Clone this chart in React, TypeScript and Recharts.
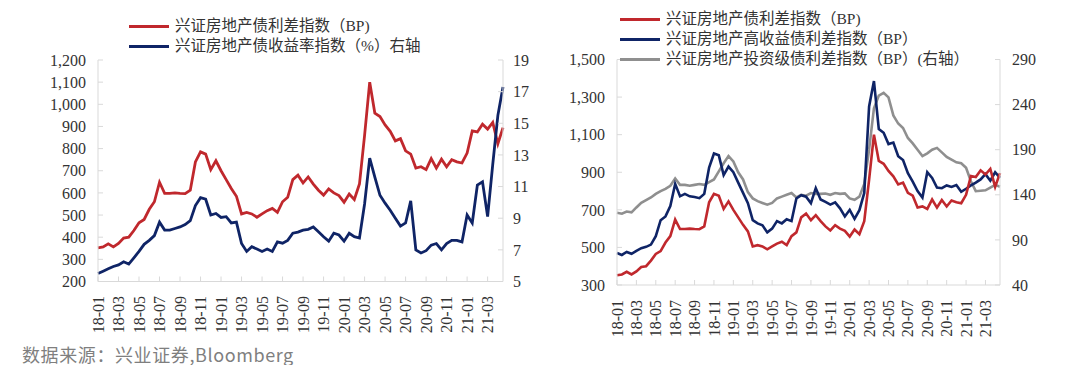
import React from 'react';
import { LineChart, Line, XAxis, YAxis } from 'recharts';

// half-month periods, Jan 2018 .. Apr 2021
const months = [
  '18-01', '18-02', '18-03', '18-04', '18-05', '18-06', '18-07', '18-08', '18-09', '18-10', '18-11', '18-12',
  '19-01', '19-02', '19-03', '19-04', '19-05', '19-06', '19-07', '19-08', '19-09', '19-10', '19-11', '19-12',
  '20-01', '20-02', '20-03', '20-04', '20-05', '20-06', '20-07', '20-08', '20-09', '20-10', '20-11', '20-12',
  '21-01', '21-02', '21-03', '21-04',
];
const periods = months.flatMap((m) => [m + ' a', m + ' b']);

// 兴证房地产债利差指数 (BP)
const spreadIdx = [
  352, 356, 370, 356, 372, 396, 400, 430, 465, 480, 526, 560, 648, 598, 598, 600, 598, 597, 612, 740,
  785, 775, 705, 745, 700, 660, 620, 585, 505, 512, 505, 490, 505, 520, 530, 512, 560, 580, 660, 680,
  645, 672, 640, 612, 590, 618, 600, 588, 558, 595, 570, 640, 860, 1100, 960, 945, 907, 878, 835, 845,
  790, 775, 712, 718, 705, 755, 712, 752, 718, 750, 740, 735, 780, 880, 875, 910, 888, 918, 822, 895,
];

// 兴证房地产债收益率指数 (%)
const yieldIdx = [
  5.5, 5.65, 5.8, 5.95, 6.05, 6.25, 6.1, 6.5, 6.9, 7.35, 7.6, 7.9, 8.75, 8.25, 8.25, 8.35, 8.45, 8.6, 8.85, 9.8,
  10.3, 10.2, 9.2, 9.3, 9.05, 9.1, 8.7, 8.75, 7.4, 6.9, 7.2, 7.05, 6.9, 7.05, 6.9, 7.5, 7.42, 7.6, 8.05, 8.12,
  8.25, 8.3, 8.45, 8.15, 7.83, 7.55, 8.05, 7.94, 7.55, 8.05, 7.83, 7.75, 9.9, 12.8, 11.6, 10.45, 9.95, 9.5, 9.0, 8.5,
  8.7, 10.1, 7.0, 6.8, 6.95, 7.3, 7.4, 7.0, 7.4, 7.6, 7.6, 7.5, 9.2, 8.7, 11.1, 11.3, 9.1, 12.4, 15.5, 17.3,
];

// 兴证房地产高收益债利差指数 (BP)
const highYield = [
  470, 460, 476, 466, 482, 496, 503, 515, 560, 645, 665, 720, 838, 772, 785, 772, 768, 762, 785, 925,
  1000, 990, 885, 930, 900, 845, 790, 735, 645, 628, 618, 580, 600, 640, 628, 650, 640, 760, 778, 770,
  735, 815, 755, 742, 728, 740, 708, 665, 700, 652, 698, 790, 1250, 1385, 1130, 1110, 1050, 1058, 985, 965,
  895, 850, 800, 765, 900, 870, 818, 815, 830, 822, 832, 796, 812, 830, 845, 862, 890, 855, 900, 870,
];

// 兴证房地产投资级债利差指数 (BP), right axis
const invGrade = [
  120, 119, 121.5, 120.5, 126, 131, 134, 137, 141, 144, 146.5, 150, 158, 151, 151, 150, 151, 152, 151, 154,
  157, 166, 175, 183, 177, 165, 157, 143, 136, 133, 131, 129, 131, 136, 138, 140, 142, 137, 140, 139,
  142, 141, 141, 141.5, 140, 142, 141, 141.5, 136, 134.5, 138, 152, 190, 236, 250, 253, 248, 228, 219, 214,
  203, 197, 190, 183, 186, 190, 192, 187, 182, 179, 176, 175, 170, 155, 144, 144.5, 145, 148, 151, 149,
];

const leftTicksA = [200, 300, 400, 500, 600, 700, 800, 900, 1000, 1100, 1200];
const rightTicksA = [5, 7, 9, 11, 13, 15, 17, 19];
const leftTicksB = [300, 500, 700, 900, 1100, 1300, 1500];
const rightTicksB = [40, 90, 140, 190, 240, 290];

const data = periods.map((p, i) => ({
  p,
  spread: spreadIdx[i],
  yld: yieldIdx[i],
  hy: highYield[i],
  ig: invGrade[i],
}));

const RED = '#C0282D';
const NAVY = '#0F2466';
const GREY = '#8F8F8F';
const AXIS = '#D9D9D9';
const SERIF = 'Liberation Serif, Times New Roman, serif';
const CJK = 'Liberation Serif, Noto Sans CJK SC, serif';

const fmt = (v: number) => v.toLocaleString('en-US');

const XTick = (props: any) => {
  const { x, y, payload } = props;
  return (
    <text
      x={0}
      y={0}
      transform={`translate(${x},${y}) rotate(-90)`}
      textAnchor="end"
      dy="0.35em"
      style={{ fontSize: 16, fontFamily: SERIF }}
      fill="#333"
    >
      {String(payload.value).slice(0, 5)}
    </text>
  );
};

const tickStyle = { fontSize: 16, fill: '#333', style: { fontFamily: SERIF } };

const LegendRow = ({ top, left, color, label }: { top: number; left: number; color: string; label: string }) => (
  <div style={{ position: 'absolute', top, left, display: 'flex', alignItems: 'center', whiteSpace: 'nowrap' }}>
    <div style={{ width: 40, height: 3, background: color, marginRight: 6 }} />
    <span style={{ fontFamily: CJK, fontSize: 15.5, color: '#333', lineHeight: '20px' }}>{label}</span>
  </div>
);

export default function App() {
  return (
    <div style={{ position: 'absolute', left: 0, top: 0, width: 1080, height: 365, background: '#fff' }}>
      {/* left chart */}
      <div style={{ position: 'absolute', left: 0, top: 0 }}>
        <LineChart width={540} height={340} data={data} margin={{ top: 60, right: 7, bottom: 8.5, left: 48 }}>
          <XAxis
            dataKey="p"
            interval={3}
            height={50}
            stroke={AXIS}
            tickSize={-5}
            tickMargin={19.5}
            tick={XTick}
          />
          <YAxis
            yAxisId="l"
            domain={[200, 1200]}
            ticks={leftTicksA}
            interval={0}
            width={50}
            stroke={AXIS}
            tickSize={-5}
            tickMargin={17}
            tickFormatter={fmt}
            tick={tickStyle}
          />
          <YAxis
            yAxisId="r"
            orientation="right"
            domain={[5, 19]}
            ticks={rightTicksA}
            interval={0}
            width={30}
            stroke={AXIS}
            tickSize={-5}
            tickMargin={15}
            tick={{ ...tickStyle, textAnchor: 'start' }}
          />
          <Line yAxisId="l" dataKey="spread" stroke={RED} strokeWidth={2.8} dot={false} isAnimationActive={false} />
          <Line yAxisId="r" dataKey="yld" stroke={NAVY} strokeWidth={2.8} dot={false} isAnimationActive={false} />
        </LineChart>
        <LegendRow top={16} left={129} color={RED} label="兴证房地产债利差指数（BP)" />
        <LegendRow top={36} left={129} color={NAVY} label="兴证房地产债收益率指数（%）右轴" />
      </div>

      {/* right chart */}
      <div style={{ position: 'absolute', left: 540, top: 0 }}>
        <LineChart width={540} height={345} data={data} margin={{ top: 59.5, right: 40, bottom: 10, left: 27 }}>
          <XAxis
            dataKey="p"
            interval={3}
            height={50}
            stroke={AXIS}
            tickSize={-5}
            tickMargin={20}
            tick={XTick}
          />
          <YAxis
            yAxisId="l"
            domain={[300, 1500]}
            ticks={leftTicksB}
            interval={0}
            width={50}
            stroke={AXIS}
            tickSize={-5}
            tickMargin={17}
            tickFormatter={fmt}
            tick={tickStyle}
          />
          <YAxis
            yAxisId="r"
            orientation="right"
            domain={[40, 290]}
            ticks={rightTicksB}
            interval={0}
            width={40}
            stroke={AXIS}
            tickSize={-5}
            tickMargin={17}
            tick={{ ...tickStyle, textAnchor: 'start' }}
          />
          <Line yAxisId="r" dataKey="ig" stroke={GREY} strokeWidth={2.6} dot={false} isAnimationActive={false} />
          <Line yAxisId="l" dataKey="hy" stroke={NAVY} strokeWidth={2.6} dot={false} isAnimationActive={false} />
          <Line yAxisId="l" dataKey="spread" stroke={RED} strokeWidth={2.6} dot={false} isAnimationActive={false} />
        </LineChart>
        <LegendRow top={9} left={80} color={RED} label="兴证房地产债利差指数（BP)" />
        <LegendRow top={29} left={80} color={NAVY} label="兴证房地产高收益债利差指数（BP）" />
        <LegendRow top={49} left={80} color={GREY} label="兴证房地产投资级债利差指数（BP）(右轴）" />
      </div>

      <div
        style={{
          position: 'absolute',
          left: 22,
          top: 344,
          fontFamily: 'Noto Sans CJK SC, sans-serif',
          fontSize: 18,
          letterSpacing: 0.6,
          color: '#7F7F7F',
          whiteSpace: 'nowrap',
          lineHeight: '20px',
        }}
      >
        数据来源：兴业证券,Bloomberg
      </div>
    </div>
  );
}
